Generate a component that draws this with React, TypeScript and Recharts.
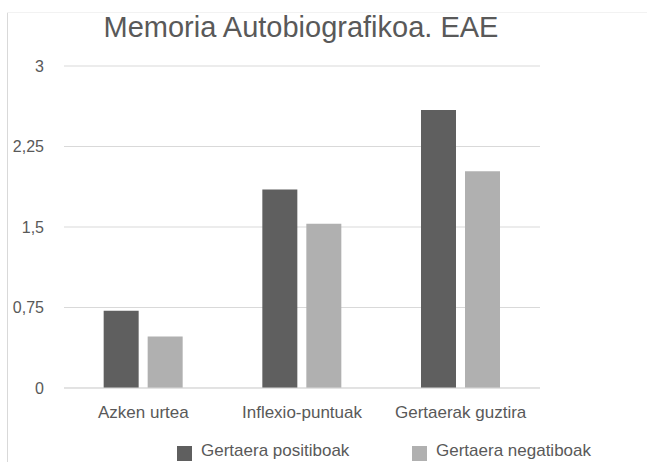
import React from 'react';
import { Bar, BarChart, CartesianGrid, XAxis, YAxis } from 'recharts';

const categories = ['Azken urtea', 'Inflexio-puntuak', 'Gertaerak guztira'];
const positiboak = [0.72, 1.85, 2.59];
const negatiboak = [0.48, 1.53, 2.02];
const yTicks = [0, 0.75, 1.5, 2.25, 3];

const seriesNames = ['Gertaera positiboak', 'Gertaera negatiboak'];
const colors = ['#5f5f5f', '#b0b0b0'];

const data = categories.map((label, i) => ({ label, pos: positiboak[i], neg: negatiboak[i] }));

const font = '"Liberation Sans", Arial, sans-serif';
const legendLeft = [177, 412];

function ChartLegend() {
  return (
    <>
      {seriesNames.map((name, i) => (
        <div
          key={name}
          style={{
            position: 'absolute',
            top: 441,
            left: legendLeft[i],
            display: 'flex',
            alignItems: 'flex-start',
            fontFamily: font,
            fontSize: 17,
            lineHeight: '19px',
            color: '#595959',
            whiteSpace: 'nowrap',
          }}
        >
          <span style={{ width: 15, height: 15, marginTop: 5, background: colors[i], display: 'inline-block', marginRight: 9 }} />
          <span>{name}</span>
        </div>
      ))}
    </>
  );
}

export default function App() {
  return (
    <div style={{ position: 'absolute', left: 0, top: 0, width: 647, height: 462, overflow: 'hidden', background: '#fff' }}>
      <div style={{ position: 'absolute', left: 7, top: 12, width: 1, height: 450, background: '#d9d9d9' }} />
      <div style={{ position: 'absolute', left: 7, top: 12, width: 640, height: 1, background: '#f2f2f2' }} />
      <div
        style={{
          position: 'absolute',
          top: 11,
          left: 0,
          width: 602,
          textAlign: 'center',
          fontFamily: font,
          fontSize: 29,
          color: '#595959',
          whiteSpace: 'nowrap',
        }}
      >
        Memoria Autobiografikoa. EAE
      </div>
      <BarChart
        width={647}
        height={462}
        data={data}
        margin={{ top: 66, right: 107, left: 0, bottom: 34 }}
        barCategoryGap="25%"
        barGap={9}
      >
        <CartesianGrid stroke="#d9d9d9" vertical={false} />
        <XAxis
          dataKey="label"
          axisLine={{ stroke: '#d9d9d9' }}
          tickLine={false}
          height={40}
          tickMargin={12}
          tick={{ fill: '#595959', fontSize: 17, fontFamily: font }}
        />
        <YAxis
          domain={[0, 3]}
          ticks={yTicks}
          width={64}
          axisLine={false}
          tickLine={false}
          tickMargin={14}
          tickFormatter={(v: number) => String(v).replace('.', ',')}
          tick={{ fill: '#595959', fontSize: 16, fontFamily: font }}
        />
        <Bar dataKey="pos" name={seriesNames[0]} fill={colors[0]} isAnimationActive={false} />
        <Bar dataKey="neg" name={seriesNames[1]} fill={colors[1]} isAnimationActive={false} />
      </BarChart>
      <ChartLegend />
    </div>
  );
}
